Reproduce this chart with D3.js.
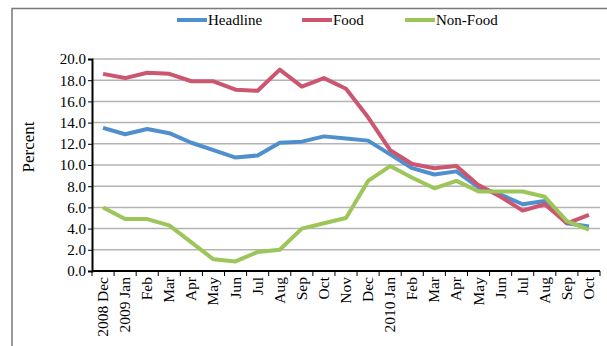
<!DOCTYPE html>
<html>
<head>
<meta charset="utf-8">
<script src="https://cdn.jsdelivr.net/npm/d3@7"></script>
<style>
  html, body { margin: 0; padding: 0; background: #fff; }
  svg { display: block; }
  svg text { font-family: "Liberation Serif", "Times New Roman", Times, serif; }
</style>
</head>
<body>
<svg id="chart" width="607" height="346"></svg>
<script>
// Monthly inflation, year-on-year (%)
const months = ["2008 Dec", "2009 Jan", "Feb", "Mar", "Apr", "May", "Jun", "Jul", "Aug", "Sep", "Oct", "Nov",
                "Dec", "2010 Jan", "Feb", "Mar", "Apr", "May", "Jun", "Jul", "Aug", "Sep", "Oct"];
const headline = [13.5, 12.9, 13.4, 13.0, 12.1, 11.4, 10.7, 10.9, 12.1, 12.2, 12.7, 12.5,
                  12.3, 11.0, 9.7, 9.1, 9.4, 7.9, 7.2, 6.3, 6.6, 4.5, 4.2];
const food =     [18.6, 18.2, 18.7, 18.6, 17.9, 17.9, 17.1, 17.0, 19.0, 17.4, 18.2, 17.2,
                  14.5, 11.4, 10.1, 9.7, 9.9, 8.1, 7.0, 5.7, 6.3, 4.5, 5.3];
const nonFood =  [6.0, 4.9, 4.9, 4.3, 2.7, 1.1, 0.9, 1.8, 2.0, 4.0, 4.5, 5.0,
                  8.5, 9.9, 8.8, 7.8, 8.5, 7.5, 7.5, 7.5, 7.0, 4.7, 3.9];
const yTicks = [0, 2, 4, 6, 8, 10, 12, 14, 16, 18, 20];

const seriesNames = ["Headline", "Food", "Non-Food"];
const seriesColors = ["#4f8fce", "#cc5570", "#9cc55a"];
const seriesData = [headline, food, nonFood];

const svg = d3.select("#chart");

// outer frame (top and left edges)
svg.append("path")
  .attr("d", "M12,346 L12,8.5 L607,8.5")
  .attr("fill", "none").attr("stroke", "#7a7a7a").attr("stroke-width", 1.5);

const plot = { left: 92, right: 600, top: 59, bottom: 271 };

// month labels repeat across years, so the band scale is keyed by position
const idx = d3.range(months.length);
const x = d3.scaleBand().domain(idx).range([plot.left, plot.right]);
const y = d3.scaleLinear().domain([0, 20]).range([plot.bottom, plot.top]);

// horizontal gridlines
svg.append("g").selectAll("line")
  .data(yTicks.filter(t => t > 0))
  .join("line")
  .attr("x1", plot.left).attr("x2", plot.right)
  .attr("y1", d => y(d)).attr("y2", d => y(d))
  .attr("stroke", "#b4b4b4").attr("stroke-width", 1.5);

// y axis
const yAxis = svg.append("g")
  .attr("transform", `translate(${plot.left},0)`)
  .call(d3.axisLeft(y).tickValues(yTicks).tickFormat(d3.format(".1f")).tickSize(4).tickPadding(2));
yAxis.attr("font-family", null);
yAxis.select(".domain").attr("stroke", "#000").attr("stroke-width", 2);
yAxis.selectAll(".tick line").attr("stroke", "#000").attr("stroke-width", 1);
yAxis.selectAll("text").attr("font-size", 15).attr("fill", "#000");

// x axis with ticks between categories
const xAxisG = svg.append("g").attr("transform", `translate(0,${plot.bottom})`);
xAxisG.append("line")
  .attr("x1", plot.left).attr("x2", plot.right)
  .attr("stroke", "#000").attr("stroke-width", 2);
const bounds = idx.map(i => x(i)).concat([plot.right]);
xAxisG.selectAll("line.tk").data(bounds).join("line").attr("class", "tk")
  .attr("x1", d => d).attr("x2", d => d).attr("y1", 0).attr("y2", 5)
  .attr("stroke", "#000").attr("stroke-width", 1);
xAxisG.selectAll("text").data(idx).join("text")
  .attr("transform", i => `translate(${x(i) + x.bandwidth() / 2 + 5},6) rotate(-90)`)
  .attr("text-anchor", "end")
  .attr("font-size", 15.5)
  .attr("fill", "#000")
  .text(i => months[i]);

// y axis title
svg.append("text")
  .attr("transform", "translate(34,147) rotate(-90)")
  .attr("text-anchor", "middle")
  .attr("font-size", 17)
  .attr("fill", "#000")
  .text("Percent");

// series lines
const line = d3.line()
  .x((d, i) => x(i) + x.bandwidth() / 2)
  .y(d => y(d));

svg.append("g").selectAll("path")
  .data(seriesData)
  .join("path")
  .attr("d", d => line(d))
  .attr("fill", "none")
  .attr("stroke", (d, i) => seriesColors[i])
  .attr("stroke-width", 4)
  .attr("stroke-linejoin", "round");

// legend
const legendX = [177, 302, 405];
const legend = svg.append("g").selectAll("g")
  .data(seriesNames)
  .join("g")
  .attr("transform", (d, i) => `translate(${legendX[i]},20)`);
legend.append("line")
  .attr("x1", 0).attr("x2", 30)
  .attr("stroke", (d, i) => seriesColors[i]).attr("stroke-width", 4);
legend.append("text")
  .attr("x", 31).attr("y", 5)
  .attr("font-size", 15)
  .attr("fill", "#000")
  .text(d => d);
</script>
</body>
</html>
